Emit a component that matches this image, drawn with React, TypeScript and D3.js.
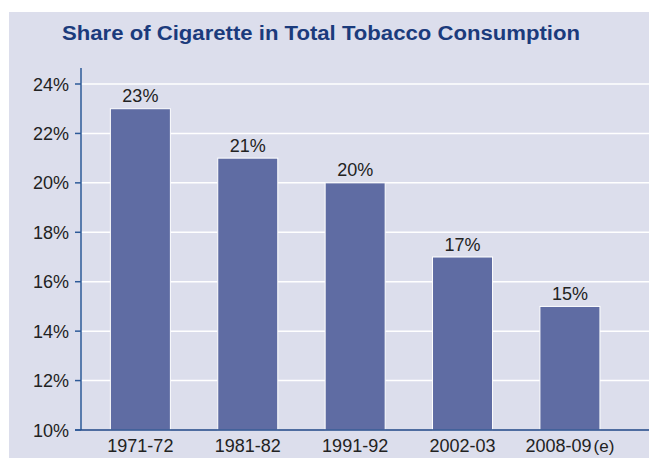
import React from "react";
import * as d3 from "d3";

const categories = ["1971-72", "1981-82", "1991-92", "2002-03", "2008-09"];
const suffixes = ["", "", "", "", "(e)"];
const values = [23, 21, 20, 17, 15];
const yTicks = [10, 12, 14, 16, 18, 20, 22, 24];
const title = "Share of Cigarette in Total Tobacco Consumption";

const W = 649;
const H = 459;

export default function App() {
  const x = d3.scaleBand<string>().domain(categories).range([63, 647.3]).padding(0.441);
  const y = d3.scaleLinear().domain([10, 24]).range([430, 84]);
  const font = "'Liberation Sans', Arial, Helvetica, sans-serif";
  return (
    <svg width={W} height={H} style={{ position: "absolute", left: 0, top: 0 }}>
      <rect x={9} y={12} width={W - 9} height={446} fill="#dcdeec" />
      <text x={62} y={40} fontFamily={font} fontWeight="bold" fontSize={19.5} fill="#1b3b7c" textLength={518} lengthAdjust="spacingAndGlyphs">
        {title}
      </text>
      {yTicks.filter((t) => t > 10).map((t) => (
        <line key={"g" + t} x1={81} x2={W} y1={y(t)} y2={y(t)} stroke="#ffffff" strokeWidth={1.5} />
      ))}
      {categories.map((c, i) => (
        <rect key={c} x={x(c)} y={y(values[i])} width={x.bandwidth()} height={y(10) - y(values[i])} fill="#5f6ca3" stroke="#ffffff" strokeWidth={1} />
      ))}
      {categories.map((c, i) => (
        <text key={"v" + c} x={(x(c) as number) + x.bandwidth() / 2} y={y(values[i]) - 6.5} textAnchor="middle" fontFamily={font} fontSize={18} fill="#222">
          {values[i]}%
        </text>
      ))}
      <line x1={81} x2={81} y1={68} y2={430} stroke="#2d5a98" strokeWidth={1.5} />
      <line x1={75} x2={W} y1={430} y2={430} stroke="#1f4687" strokeWidth={1.5} />
      {yTicks.map((t) => (
        <g key={"t" + t}>
          <line x1={75} x2={81} y1={y(t)} y2={y(t)} stroke="#2d5a98" strokeWidth={1.5} />
          <text x={69} y={y(t) + 6.5} textAnchor="end" fontFamily={font} fontSize={18} fill="#222">
            {t}%
          </text>
        </g>
      ))}
      {categories.map((c, i) => (
        <text key={"x" + c} x={(x(c) as number) + x.bandwidth() / 2} y={451.5} textAnchor="middle" fontFamily={font} fontSize={18} fill="#222">
          {c}
          {suffixes[i] ? <tspan dx={2} fontSize={17}>{suffixes[i]}</tspan> : null}
        </text>
      ))}
    </svg>
  );
}
